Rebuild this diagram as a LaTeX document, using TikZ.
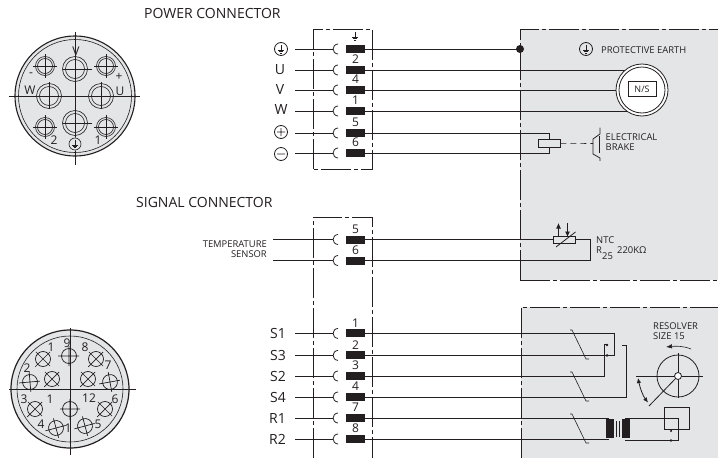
\documentclass[tikz,border=0pt]{standalone}
\usepackage{fontspec}
\setmainfont{Open Sans}
\usetikzlibrary{arrows.meta}
\definecolor{panel}{HTML}{E4E5E7}
\definecolor{ink}{HTML}{231F20}
\newcommand{\fs}[1]{\fontsize{#1}{#1}\selectfont}
\tikzset{
  x=1pt,y=-1pt,
  wire/.style={draw=ink,line width=0.8pt},
  thin wire/.style={draw=ink,line width=0.6pt},
  boxedge/.style={draw=ink,line width=1pt,dash pattern=on 30pt off 3pt on 4pt off 3pt},
  lab/.style={inner sep=0pt,text=ink},
  title/.style={lab,anchor=west,font=\fs{14}},
  sym/.style={lab,font=\fs{14}},
  num/.style={lab,font=\fs{12}},
  tiny/.style={lab,anchor=west,font=\fs{9.4}},
  plug/.style={fill=ink,draw=none,minimum width=19pt,minimum height=8pt,inner sep=0pt},
}
\newcommand{\earthmark}[3]{%
  \begin{scope}[shift={(#1,#2)},scale=#3]
    \draw[thin wire] (0,-4.5)--(0,1) (-3.5,1)--(3.5,1) (-2.3,2.8)--(2.3,2.8) (-1,4.5)--(1,4.5);
  \end{scope}}
\newcommand{\bigpin}[2]{%
  \draw[thin wire,fill=panel] (#1,#2) circle (12.5);
  \draw[thin wire] (#1,#2) circle (9.5);
  \draw[thin wire] (#1-12.5,#2)--(#1+17,#2) (#1,#2-14)--(#1,#2+12.5);}
\newcommand{\smallpin}[2]{%
  \draw[thin wire,fill=panel] (#1,#2) circle (9.5);
  \draw[thin wire] (#1,#2) circle (7.5);
  \draw[thin wire] (#1-12,#2)--(#1+12,#2) (#1,#2-12)--(#1,#2+12);}
\newcommand{\sigpin}[3]{%
  \begin{scope}[shift={(#1,#2)},rotate=#3]
    \draw[draw=ink,line width=0.7pt] (0,0) circle (7.5) (-11,0)--(10,0) (0,-10)--(0,10);
  \end{scope}}
\begin{document}
\begin{tikzpicture}
\useasboundingbox (0,0) rectangle (718,458);
\fill[white] (0,0) rectangle (718,458);

% ---------- panels
\fill[panel] (520,29) rectangle (718,280);
\fill[panel] (521,307) rectangle (718,458);

% ---------- titles
\node[title] (ptitle) at (144,13) {POWER CONNECTOR};
\node[title] (stitle) at (136,202) {SIGNAL CONNECTOR};

% ---------- power connector face
\draw[draw=ink,line width=1.1pt,fill=panel] (75,96) circle (60);
\draw[thin wire] (75,96) circle (56.5);
\draw[thin wire] (8.5,96)--(140,96) (75,32)--(75,165);
\bigpin{75}{69}
\bigpin{49}{96}
\bigpin{101}{96}
\bigpin{75}{123}
\smallpin{45}{66}
\smallpin{106}{66}
\smallpin{45}{127}
\smallpin{106}{127}
\fill[panel] (75,144) circle (6.5);
\draw[thin wire] (75,144) circle (6);
\earthmark{75}{144}{0.8}
\node[lab,font=\fs{12}] (pV) at (76,51) {V};
\node[lab,font=\fs{12}] (pW) at (30,90) {W};
\node[lab,font=\fs{12}] (pU) at (120,91) {U};
\node[lab,font=\fs{12}] (pm) at (31,75) {-};
\node[lab,font=\fs{12}] (pp) at (119,77) {+};
\node[lab,font=\fs{12}] (p2) at (54,140) {2};
\node[lab,font=\fs{12}] (p1) at (98,140) {1};

% ---------- signal connector face
\draw[draw=ink,line width=1.2pt,fill=panel] (70,389) circle (59);
\draw[thin wire] (70,389) circle (53);
\draw[thin wire] (9,389)--(136,389) (70,328)--(70,455);
\sigpin{69}{356}{0}
\sigpin{96}{359}{45}
\sigpin{110}{382}{10}
\sigpin{105}{409}{45}
\sigpin{85}{426}{15}
\sigpin{56}{428}{15}
\sigpin{35}{409}{45}
\sigpin{30}{382}{5}
\sigpin{43}{359}{45}
\sigpin{52}{379}{45}
\sigpin{88}{379}{45}
\sigpin{70}{409}{90}
\foreach \n/\t/\x/\y in {a/1/51/347,b/9/67/343,c/8/85/347,d/7/108/365,e/2/27/368,f/3/24/399,g/1/50/399,h/12/89/398,i/6/115/399,j/4/41/424,k/1/68/428,l/5/98/424}
  \node[lab,font=\fs{12}] (sn\n) at (\x,\y) {\t};

% ---------- connector boxes
\draw[boxedge] (313,169)--(313,29)--(372,29)--(372,169)--cycle;
\draw[boxedge] (313,458)--(313,217)--(372,217)--(372,458);

% ---------- rows
\foreach \r/\y/\t/\xs in {a/49/{}/295,b/70/2/295,c/90/4/295,d/111/1/295,e/133/5/295,f/153/6/295,g/239.5/5/273,h/260.5/6/273,i/333.4/1/295,j/355.4/2/295,k/376/3/295,l/397/4/295,m/418/7/295,n/439/8/295}{
  \coordinate (L\r) at (\xs,\y);
  \coordinate (C\r) at (333,\y);
  \node[plug] (P\r) at (355.5,\y) {};
  \draw[wire] (L\r)--(C\r);
  \draw[wire] (338,\y-5) .. controls (331.5,\y-4.5) and (331.5,\y+4.5) .. (338,\y+5);
  \node[num] (N\r) at (355.5,\y-10.5) {\t};
}
\earthmark{355}{36}{0.85}

% row labels
\draw[draw=ink,line width=0.8pt] (281,49) circle (6.5);
\earthmark{281}{49}{0.9}
\node[sym] (lU) at (280,69.5) {U};
\node[sym] (lV) at (280,90) {V};
\node[sym] (lW) at (281,110) {W};
\draw[draw=ink,line width=0.8pt] (281,132) circle (6.5) (277,132)--(285,132) (281,128)--(281,136);
\draw[draw=ink,line width=0.8pt] (281,154) circle (6.5) (277,154)--(285,154);
\node[lab,font=\fs{9.4},anchor=east] (tt) at (267,244) {TEMPERATURE};
\node[lab,font=\fs{9.4},anchor=east] (ts) at (267,254) {SENSOR};
\foreach \n/\t/\y in {i/S1/333,j/S3/355,k/S2/376,l/S4/397,m/R1/418,n/R2/439}
  \node[sym,anchor=east] (lab\n) at (286,\y) {\t};

% ---------- protective earth and motor
\draw[boxedge] (520,280)--(520,29)--(718,29);
\draw[boxedge] (520,280)--(718,280);
\draw[wire] (Pa)--(520,49);
\fill[ink] (520,49) circle (4);
\draw[draw=ink,line width=0.8pt] (586,49) circle (6.5);
\earthmark{586}{49}{0.9}
\node[tiny] (pe) at (601,50) {PROTECTIVE EARTH};
\coordinate (m) at (642,90);
\draw[wire] (Pb)--(625,70);
\draw[wire] (Pc)--(616,90);
\draw[wire] (Pd)--(628,111);
\draw[wire,fill=white] (m) circle (26);
\draw[wire] (m) circle (23);
\node[draw=ink,line width=0.7pt,fill=white,minimum width=28pt,minimum height=15pt,inner sep=0pt,font=\fs{9},text=ink] (ns) at (642,89) {N/S};

% brake
\node[draw=ink,line width=0.9pt,fill=panel,minimum width=22pt,minimum height=7.5pt,inner sep=0pt] (br) at (549,143.3) {};
\draw[wire] (Pe)--(549,133)--(br.north);
\draw[wire] (Pf)--(549,153)--(br.south);
\coordinate (bk) at (593,143.5);
\draw[thin wire,dash pattern=on 6pt off 4pt] (br.east)--(bk);
\draw[wire] (600,127.5)--(600,134)--(593,139)--(593,154)--(600,158)--(600,161);
\draw[wire] (599,136)--(599,153);
\node[tiny] (eb1) at (605.5,137.5) {ELECTRICAL};
\node[tiny] (eb2) at (605.5,147.5) {BRAKE};

% NTC
\draw[wire] (Pg)--(590,239.5)--(590,260.5)--(Ph);
\node[draw=ink,line width=0.9pt,fill=panel,minimum width=22pt,minimum height=7.5pt,inner sep=0pt] (ntc) at (564,240) {};
\draw[wire] (556,247)--(575.5,232);
\coordinate (au) at (558.5,223);
\coordinate (ad) at (567.5,223);
\draw[wire,-{Latex[length=5.5pt,width=5pt]}] (558.5,236)--(au);
\draw[wire,-{Latex[length=5.5pt,width=5pt]}] (ad)--(567.5,237);
\node[tiny] (nt1) at (596,240.5) {NTC};
\node[tiny] (nt2) at (596,250.5) {R};
\node[tiny] (nt3) at (602,256.5) {25};
\node[tiny] (nt4) at (617,250.5) {220KΩ};

% ---------- resolver panel
\draw[boxedge] (521,458)--(521,307)--(718,307);
\draw[wire] (Pi)--(614,333.4)--(614,355.4)--(Pj);
\draw[wire] (Pk)--(604,376)--(604,344.5)--(608,344.5);
\draw[wire] (Pl)--(626,397)--(626,345)--(622,345);
\fill[ink] (607,345) circle (1.4);
\fill[ink] (607,355.4) circle (1.4);
\foreach \y in {330,372,414}
  \draw[thin wire] (570,\y)--(572,\y)--(586,\y+29)--(589,\y+29);
\draw[wire] (Pm)--(609,418);
\draw[wire] (Pn)--(609,439);
\fill[ink] (606,419) rectangle (613.5,438);
\fill[ink] (622,419) rectangle (629.5,438);
\draw[thin wire] (616,421)--(616,437) (619,421)--(619,437);
\draw[thin wire] (625,418.5)--(678,418.5)--(678,440.5)--(625,440.5);
\draw[thin wire] (664,407) rectangle (689,429);
\draw[thin wire] (671,429)--(671,431);
\fill[ink] (671,431) circle (1.2);
\fill[ink] (671,440.5) circle (1.4);

% resolver symbol
\coordinate (rc) at (678,376);
\draw[wire] (rc) circle (21);
\draw[thin wire] (636,376)--(703,376) (678,353)--(678,398);
\draw[wire] (rc)--(649,406);
\draw[wire,fill=white] (rc) circle (3.5);
\draw[wire,{Latex[length=5pt,width=4.5pt]}-{Latex[length=5pt,width=4.5pt]}] (638,378) .. controls (640,388) and (643,396) .. (648,402.5);
\draw[thin wire,-{Latex[length=6pt,width=4.5pt]}] (691,349) .. controls (684,346) and (675,346) .. (666,347);
\node[tiny] (r1) at (653,326.5) {RESOLVER};
\node[tiny] (r2) at (653,336.5) {SIZE 15};
\end{tikzpicture}
\end{document}
